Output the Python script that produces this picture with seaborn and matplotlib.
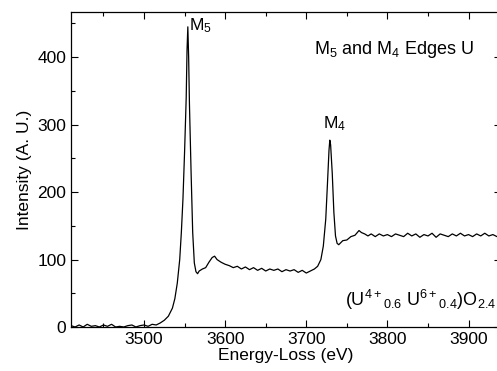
import matplotlib
matplotlib.use("Agg")
import matplotlib.pyplot as plt
from matplotlib.ticker import MultipleLocator
import seaborn as sns
import pandas as pd

energy = [3410, 3415, 3420, 3425, 3430, 3435, 3440, 3445, 3450, 3455, 3460, 3465, 3470,
          3475, 3480, 3485, 3490, 3495, 3500, 3505, 3510, 3515, 3520, 3525, 3530, 3535,
          3538, 3541, 3544, 3546, 3548, 3550, 3552, 3553, 3554, 3555, 3556, 3558, 3560,
          3562, 3564, 3566, 3568, 3572, 3576, 3580, 3584, 3587, 3590, 3595, 3600, 3605,
          3610, 3615, 3620, 3625, 3630, 3635, 3640, 3645, 3650, 3655, 3660, 3665, 3670,
          3675, 3680, 3685, 3690, 3695, 3700, 3705, 3710, 3714, 3718, 3721, 3724, 3726,
          3728, 3729, 3730, 3732, 3734, 3736, 3738, 3740, 3745, 3750, 3755, 3760, 3765,
          3768, 3772, 3776, 3780, 3785, 3790, 3795, 3800, 3805, 3810, 3815, 3820, 3825,
          3830, 3835, 3840, 3845, 3850, 3855, 3860, 3865, 3870, 3875, 3880, 3885, 3890,
          3895, 3900, 3905, 3910, 3915, 3920, 3925, 3930, 3935, 3940]
intensity = [2, 0, 3, 0, 4, 1, 2, 0, 3, 1, 4, 0, 1,
             0, 2, 3, 0, 2, 3, 1, 4, 3, 6, 10, 16, 28,
             42, 65, 100, 140, 190, 260, 340, 410, 445, 400, 330, 230, 140,
             95, 82, 79, 83, 86, 88, 96, 103, 105, 100, 96, 93, 91,
             88, 90, 86, 89, 85, 88, 84, 87, 83, 86, 84, 86, 82,
             85, 83, 85, 81, 84, 80, 83, 86, 90, 100, 120, 160, 210,
             262, 277, 270, 228, 170, 135, 124, 122, 128, 129, 134, 136, 143,
             140, 138, 135, 138, 134, 138, 135, 137, 134, 138, 136, 134, 139,
             135, 138, 133, 137, 135, 139, 133, 138, 136, 134, 138, 135, 139,
             135, 137, 134, 138, 135, 139, 135, 137, 134, 136]

xticks = [3500, 3600, 3700, 3800, 3900]
yticks = [0, 100, 200, 300, 400]

df = pd.DataFrame({"Energy": energy, "Intensity": intensity})

sns.set_style("ticks")
plt.rcParams["font.family"] = ["Liberation Sans", "DejaVu Sans"]
plt.rcParams["mathtext.fontset"] = "custom"
plt.rcParams["mathtext.rm"] = "Liberation Sans"
plt.rcParams["mathtext.it"] = "Liberation Sans:italic"
for k in ["text.color", "axes.labelcolor", "xtick.color", "ytick.color", "axes.edgecolor"]:
    plt.rcParams[k] = "black"

fig = plt.figure(figsize=(4.97, 3.71), dpi=100)
ax = fig.add_axes([71 / 497, 44 / 371, 430 / 497, 315 / 371])

sns.lineplot(data=df, x="Energy", y="Intensity", ax=ax, color="black", lw=0.9)

ax.set_xlim(3410, 3940)
ax.set_ylim(0, 467)
ax.set_xticks(xticks)
ax.set_yticks(yticks)
ax.xaxis.set_minor_locator(MultipleLocator(50))
ax.yaxis.set_minor_locator(MultipleLocator(50))
ax.tick_params(which="both", direction="in", top=True, right=True, labelsize=12.5, width=0.8)
ax.tick_params(which="major", length=5)
ax.tick_params(which="minor", length=3)
for s in ax.spines.values():
    s.set_linewidth(0.9)

ax.set_xlabel("Energy-Loss (eV)", fontsize=12.5, labelpad=1)
ax.set_ylabel("Intensity (A. U.)", fontsize=12.5, labelpad=4)

ax.text(3556, 447, r"$\mathregular{M_5}$", fontsize=12.5, ha="left", va="center")
ax.text(3720, 302, r"$\mathregular{M_4}$", fontsize=12.5, ha="left", va="center")
ax.text(3710, 412, r"$\mathregular{M_5}$ and $\mathregular{M_4}$ Edges U", fontsize=13, ha="left", va="center")
ax.text(3748, 40, r"$\mathregular{(U^{4+}{}_{0.6}\ U^{6+}{}_{0.4})O_{2.4}}$", fontsize=13, ha="left", va="center")

fig.savefig("out.png", dpi=100)
